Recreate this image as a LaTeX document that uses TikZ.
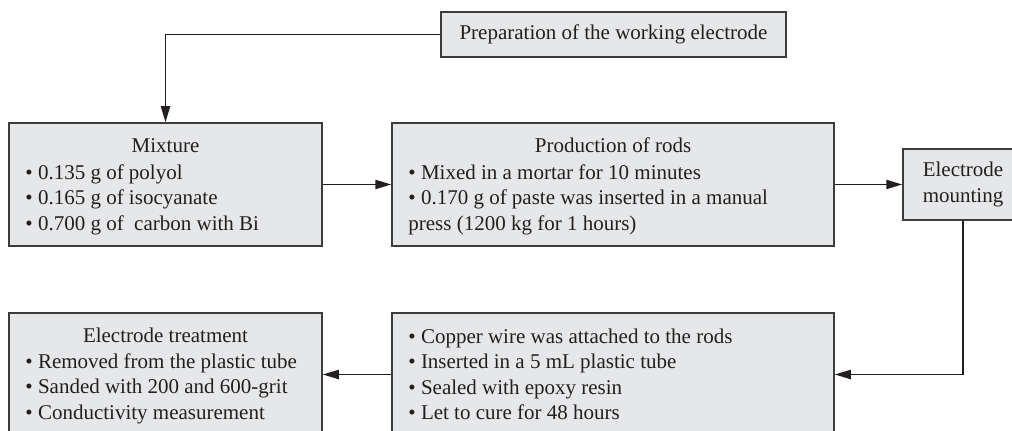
\documentclass[tikz,border=0pt]{standalone}
\usepackage{fontspec}
\setmainfont{Liberation Serif}
\usetikzlibrary{arrows.meta}
\definecolor{boxfill}{RGB}{230,231,233}
\definecolor{boxline}{RGB}{60,60,60}
\definecolor{ink}{RGB}{35,31,32}
\begin{document}
\begin{tikzpicture}[x=0.5pt,y=-0.5pt,
  font=\fontsize{10.5pt}{12.75pt}\selectfont, text=ink,
  box/.style={draw=boxline, fill=boxfill, line width=0.75pt, inner sep=0pt, rectangle},
  bigbox/.style={box, minimum height=61.5pt},
  conn/.style={draw=ink, line width=0.75pt, -{Triangle[length=8pt,width=4.6pt]}},
  title/.style={anchor=base, inner sep=0pt},
  items/.style={anchor=north west, inner sep=0pt, align=left}]
\useasboundingbox (0,0) rectangle (1012,431);
% boxes
\node[box, minimum width=172.5pt, minimum height=22.5pt] (prep) at (613.5,34.5) {Preparation of the working electrode};
\node[bigbox, minimum width=156.5pt] (mix) at (165.5,184.5) {};
\node[bigbox, minimum width=221pt] (prod) at (613,184.5) {};
\node[box, minimum width=60pt, minimum height=35.5pt, align=center] (elec) at (963,184.5) {Electrode\\mounting};
\node[bigbox, minimum width=156.5pt] (treat) at (165.5,374.5) {};
\node[bigbox, minimum width=221pt] (wire) at (613,374.5) {};
% texts
\node[title] (mixT) at (165.5,153) {Mixture};
\node[items] (mixL) at (25,161.15) {\strut• 0.135 g of polyol\\• 0.165 g of isocyanate\\• 0.700 g of\ \ carbon with Bi};
\node[title] (prodT) at (613,153) {Production of rods};
\node[items] (prodL) at (408,161.15) {\strut• Mixed in a mortar for 10 minutes\\• 0.170 g of paste was inserted in a manual\\press (1200 kg for 1 hours)};
\node[title] (treatT) at (165.5,343) {Electrode treatment};
\node[items] (treatL) at (25,350.15) {\strut• Removed from the plastic tube\\• Sanded with 200 and 600-grit\\• Conductivity measurement};
\node[items] (wireL) at (408,325.15) {\strut• Copper wire was attached to the rods\\• Inserted in a 5 mL plastic tube\\• Sealed with epoxy resin\\• Let to cure for 48 hours};
% connectors
\draw[conn] (prep.west) -| (mix.north);
\draw[conn] (mix.east) -- (prod.west);
\draw[conn] (prod.east) -- (elec.west);
\draw[conn] (elec.south) |- (wire.east);
\draw[conn] (wire.west) -- (treat.east);
\end{tikzpicture}
\end{document}
